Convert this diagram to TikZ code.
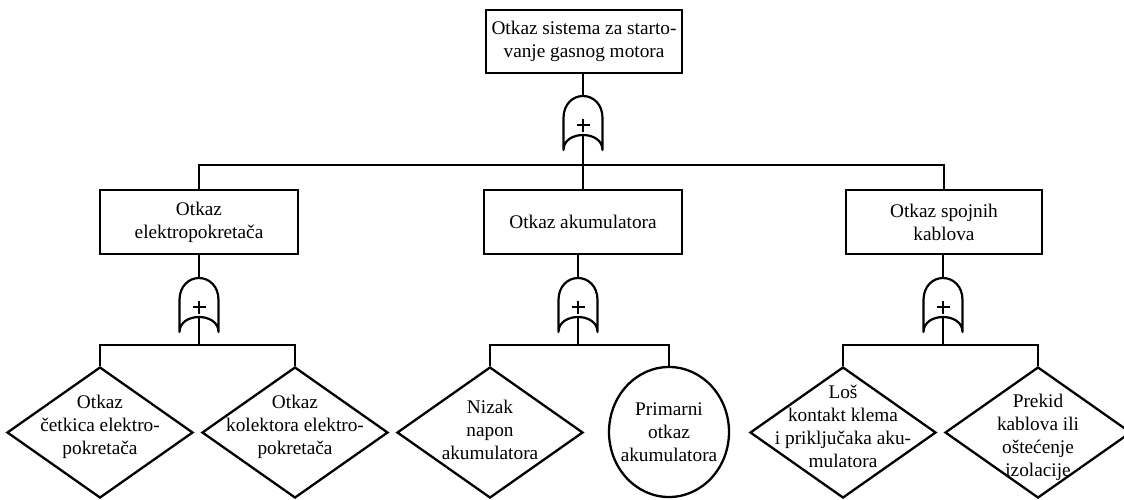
\documentclass[tikz,border=0pt]{standalone}
\usepackage{fontspec}
\setmainfont{Liberation Serif}
\newfontfamily\timesfont{Liberation Serif}
\usetikzlibrary{shapes.geometric}
\tikzset{
  evbox/.style={draw, line width=2.4pt, minimum width=196pt, minimum height=63pt, inner sep=0pt, align=center, font=\timesfont\fontsize{19.3}{23}\selectfont},
  basicev/.style={draw, diamond, line width=2.3pt, minimum width=186pt, minimum height=131pt, inner sep=0pt},
  primev/.style={draw, ellipse, line width=2.3pt, minimum width=120pt, minimum height=130pt, inner sep=0pt},
  evtext/.style={align=center, inner sep=0pt, font=\timesfont\fontsize{19.3}{23}\selectfont},
  conn/.style={line width=1.3pt},
  orgate/.pic={
    \draw[line width=2.2pt, line join=round] (-19.5,54) -- (-19.5,22) .. controls (-19.5,8) and (-10,0) .. (0,0)
       .. controls (10,0) and (19.5,8) .. (19.5,22) -- (19.5,54)
       .. controls (19.5,34) and (-19.5,34) .. cycle;
    \draw[line width=2.4pt] (-6.5,29) -- (6.5,29) (0,22.5) -- (0,35.5);
    \coordinate (-in) at (0,0);
    \coordinate (-out) at (0,39);
  }
}
\begin{document}
\begin{tikzpicture}[x=1pt, y=-1pt]
\useasboundingbox (0,0) rectangle (1124,499);
\clip (0,0) rectangle (1124,499);

% top event
\node[evbox] (top) at (584,41.5) {Otkaz sistema za starto-\\vanje gasnog motora};
\pic (g0) at (583,96) {orgate};
\draw[conn] (g0-in |- top.south) -- (g0-in);

% second level
\node[evbox, minimum width=198pt, minimum height=64pt] (m1) at (199,222) {Otkaz\\elektropokretača};
\node[evbox, minimum width=198pt, minimum height=64pt] (m2) at (583,222) {Otkaz akumulatora};
\node[evbox, minimum width=196pt, minimum height=64pt] (m3) at (944,222) {Otkaz spojnih\\kablova};
\coordinate (bar0) at (583,165);
\draw[conn] (g0-out) -- (m2.north);
\draw[conn] (m1.north) -- (m1.north |- bar0) -- (m3.north |- bar0) -- (m3.north);

% gates
\pic (g1) at (199,278) {orgate};
\pic (g2) at (578,278) {orgate};
\pic (g3) at (943,278) {orgate};
\draw[conn] (g1-in |- m1.south) -- (g1-in);
\draw[conn] (g2-in |- m2.south) -- (g2-in);
\draw[conn] (g3-in |- m3.south) -- (g3-in);

% basic events
\node[basicev] (d11) at (100,432.5) {};
\node[basicev] (d12) at (295,432.5) {};
\node[basicev] (d21) at (490,432.5) {};
\node[primev] (e22) at (669,432) {};
\node[basicev] (d31) at (843,432.5) {};
\node[basicev] (d32) at (1038,432.5) {};

\node[evtext] (t11) at (100,427) {Otkaz\\četkica elektro-\\pokretača};
\node[evtext] (t12) at (295,427) {Otkaz\\kolektora elektro-\\pokretača};
\node[evtext] (t21) at (490,430) {Nizak\\napon\\akumulatora};
\node[evtext] (t22) at (669,432) {Primarni\\otkaz\\akumulatora};
\node[evtext] (t31) at (843,426) {Loš\\kontakt klema\\i priključaka aku-\\mulatora};
\node[evtext] (t32) at (1038,437) {Prekid\\kablova ili\\oštećenje\\izolacije};

% bars
\coordinate (bar1) at (199,345);
\coordinate (bar2) at (578,345);
\coordinate (bar3) at (943,345);
\draw[conn] (g1-out) -- (bar1);
\draw[conn] (g2-out) -- (bar2);
\draw[conn] (g3-out) -- (bar3);
\draw[conn] (d11.north) -- (d11.north |- bar1) -- (d12.north |- bar1) -- (d12.north);
\draw[conn] (d21.north) -- (d21.north |- bar2) -- (e22.north |- bar2) -- (e22.north);
\draw[conn] (d31.north) -- (d31.north |- bar3) -- (d32.north |- bar3) -- (d32.north);
\end{tikzpicture}
\end{document}
